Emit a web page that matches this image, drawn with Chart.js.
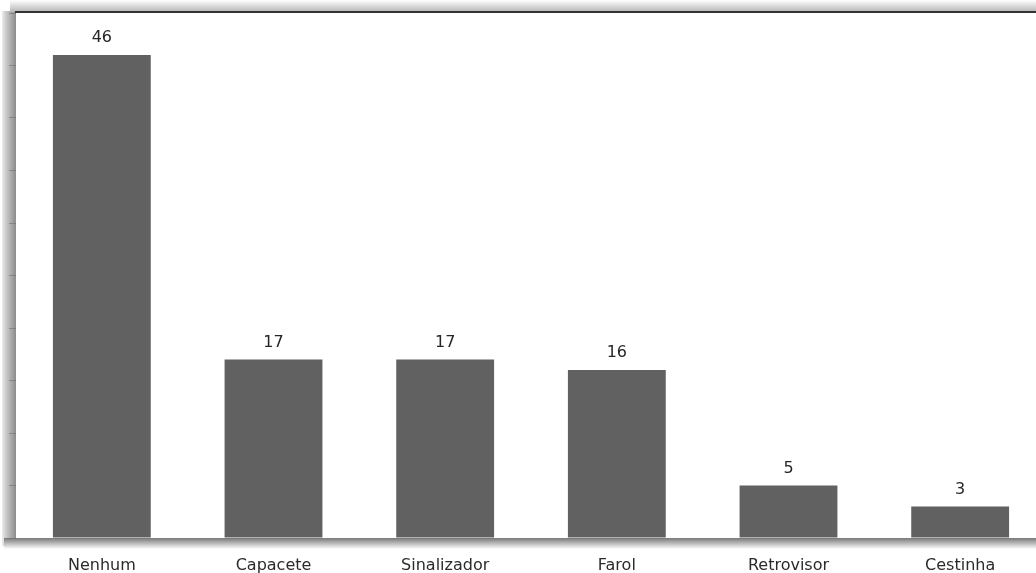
<!DOCTYPE html>
<html>
<head>
<meta charset="utf-8">
<script src="https://cdn.jsdelivr.net/npm/chart.js@4.4.0/dist/chart.umd.min.js"></script>
<style>
  html, body { margin: 0; padding: 0; background: #fff; overflow: hidden; }
  #wrap { width: 1036px; height: 573px; overflow: hidden; }
  #box { width: 1046px; height: 573px; }
</style>
</head>
<body>
<div id="wrap"><div id="box"><canvas id="chart"></canvas></div></div>
<script>
// acessórios usados
const categories = ['Nenhum', 'Capacete', 'Sinalizador', 'Farol', 'Retrovisor', 'Cestinha'];
const counts = [46, 17, 17, 16, 5, 3];
const yMax = 50;
const yStep = 5;

// moldura: sombra à esquerda, linha superior e sombra na base
const framePlugin = {
  id: 'frame',
  beforeDraw(chart) {
    const { ctx, chartArea: a } = chart;
    ctx.save();
    let g = ctx.createLinearGradient(0, 0, a.left, 0);
    g.addColorStop(0, 'rgba(255,255,255,1)');
    g.addColorStop(0.35, 'rgba(205,205,205,1)');
    g.addColorStop(1, 'rgba(140,140,140,1)');
    ctx.fillStyle = g;
    ctx.fillRect(2, a.top - 2, a.left - 2, a.bottom - a.top + 10);

    g = ctx.createLinearGradient(0, 0, 0, a.top);
    g.addColorStop(0, 'rgba(255,255,255,1)');
    g.addColorStop(1, 'rgba(175,175,175,1)');
    ctx.fillStyle = g;
    ctx.fillRect(a.left - 6, 0, chart.width, a.top - 1);

    g = ctx.createLinearGradient(0, a.bottom, 0, a.bottom + 11);
    g.addColorStop(0, 'rgba(120,120,120,1)');
    g.addColorStop(1, 'rgba(255,255,255,1)');
    ctx.fillStyle = g;
    ctx.fillRect(4, a.bottom, chart.width, 11);

    ctx.fillStyle = '#fff';
    ctx.fillRect(a.left, a.top, a.right - a.left, a.bottom - a.top);
    ctx.fillStyle = '#333';
    ctx.fillRect(a.left - 1, a.top - 2, chart.width, 2);
    ctx.restore();
  },
  afterDatasetsDraw(chart) {
    const { ctx } = chart;
    const meta = chart.getDatasetMeta(0);
    ctx.save();
    ctx.font = '16px "DejaVu Sans", sans-serif';
    ctx.fillStyle = '#262626';
    ctx.textAlign = 'center';
    ctx.textBaseline = 'alphabetic';
    meta.data.forEach((bar, i) => {
      ctx.fillText(String(counts[i]), bar.x, bar.y - 13);
    });
    ctx.restore();
  }
};

new Chart(document.getElementById('chart'), {
  type: 'bar',
  data: {
    labels: categories,
    datasets: [{
      data: counts,
      backgroundColor: '#616161',
      borderWidth: 0,
      categoryPercentage: 1,
      barPercentage: 0.57
    }]
  },
  options: {
    responsive: true,
    maintainAspectRatio: false,
    animation: false,
    layout: { padding: { top: 13, right: 0, left: 0, bottom: 0 } },
    plugins: { legend: { display: false }, tooltip: { enabled: false } },
    scales: {
      x: {
        grid: { display: false, drawTicks: false },
        border: { display: false },
        ticks: {
          padding: 18,
          color: '#2b2b2b',
          font: { family: '"DejaVu Sans", sans-serif', size: 16 }
        },
        afterFit(scale) { scale.height = 35; }
      },
      y: {
        min: 0,
        max: yMax,
        border: { display: false },
        grid: {
          drawOnChartArea: false,
          drawTicks: true,
          tickLength: 7,
          color: 'rgba(110,110,110,0.6)'
        },
        ticks: { stepSize: yStep, display: false },
        afterFit(scale) { scale.width = 16; }
      }
    }
  },
  plugins: [framePlugin]
});
</script>
</body>
</html>
